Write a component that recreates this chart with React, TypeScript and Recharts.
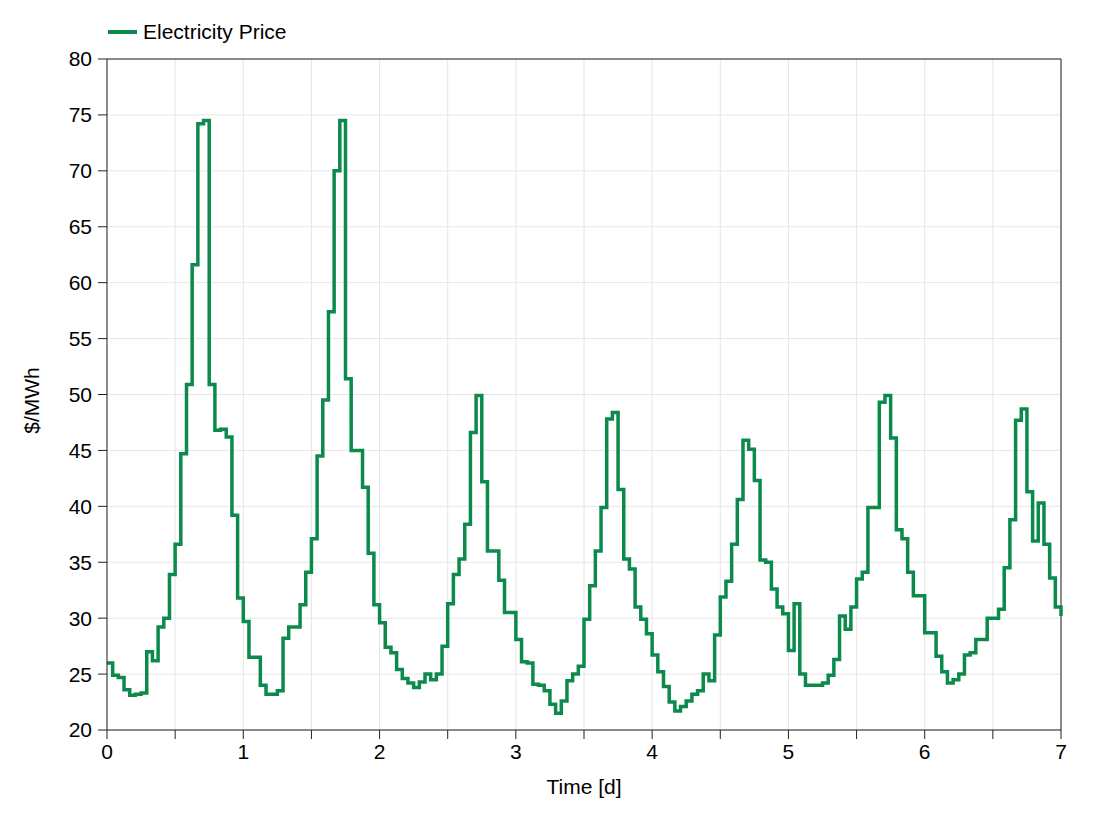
import { CartesianGrid, Label, Line, LineChart, ReferenceLine, XAxis, YAxis } from "recharts";

// hourly electricity price, $/MWh, one array per day
const day1 = [26.0, 24.9, 24.7, 23.6, 23.1, 23.2, 23.3, 27.0, 26.2, 29.2, 30.0, 33.9, 36.6, 44.7, 50.9, 61.6, 74.2, 74.5, 50.9, 46.8, 46.9, 46.2, 39.2, 31.8];
const day2 = [29.7, 26.5, 26.5, 24.0, 23.2, 23.2, 23.5, 28.2, 29.2, 29.2, 31.2, 34.1, 37.1, 44.5, 49.5, 57.4, 70.0, 74.5, 51.4, 45.0, 45.0, 41.7, 35.8, 31.2];
const day3 = [29.6, 27.4, 26.9, 25.4, 24.6, 24.2, 23.8, 24.3, 25.0, 24.5, 25.0, 27.5, 31.3, 33.9, 35.3, 38.4, 46.6, 49.9, 42.2, 36.0, 36.0, 33.4, 30.5, 30.5];
const day4 = [28.1, 26.1, 26.0, 24.1, 24.0, 23.5, 22.3, 21.5, 22.6, 24.4, 25.0, 25.7, 29.9, 32.9, 36.0, 39.9, 47.8, 48.4, 41.5, 35.3, 34.4, 31.0, 29.9, 28.6];
const day5 = [26.7, 25.2, 23.9, 22.5, 21.7, 22.1, 22.6, 23.2, 23.5, 25.0, 24.4, 28.5, 31.9, 33.3, 36.6, 40.6, 45.9, 45.1, 42.3, 35.2, 35.0, 32.6, 31.0, 30.4];
const day6 = [27.1, 31.3, 25.0, 24.0, 24.0, 24.0, 24.2, 24.9, 26.3, 30.2, 29.0, 31.0, 33.5, 34.1, 39.9, 39.9, 49.3, 49.9, 46.1, 37.9, 37.1, 34.1, 32.0, 32.0];
const day7 = [28.7, 28.7, 26.6, 25.2, 24.2, 24.5, 25.0, 26.7, 26.9, 28.1, 28.1, 30.0, 30.0, 30.8, 34.5, 38.8, 47.7, 48.7, 41.3, 36.9, 40.3, 36.6, 33.6, 31.0];
const lastValue = [30.2];

const xTicks = [0, 0.5, 1, 1.5, 2, 2.5, 3, 3.5, 4, 4.5, 5, 5.5, 6, 6.5, 7];
const yTicks = [20, 25, 30, 35, 40, 45, 50, 55, 60, 65, 70, 75, 80];

const prices = [...day1, ...day2, ...day3, ...day4, ...day5, ...day6, ...day7, ...lastValue];
const data = prices.map((price, i) => ({ t: i / 24, price }));

const GREEN = "#0b8a4c";
const AXIS = "#222";
const FONT = "'Liberation Sans', Arial, sans-serif";
const FS = 21;

export default function App() {
  return (
    <div style={{ position: "absolute", left: 0, top: 0, width: 1103, height: 814, background: "#fff", fontFamily: FONT }}>
      <div style={{ position: "absolute", left: 108, top: 20, display: "flex", alignItems: "center", fontSize: FS, color: "#000" }}>
        <svg width={29} height={6}>
          <line x1={0} x2={29} y1={3} y2={3} stroke={GREEN} strokeWidth={4} />
        </svg>
        <span style={{ marginLeft: 6 }}>Electricity Price</span>
      </div>
      <LineChart width={1103} height={814} data={data} margin={{ top: 59, right: 42, bottom: 0, left: 0 }}>
        <CartesianGrid stroke="#e6e6e6" strokeWidth={1} />
        <XAxis
          dataKey="t"
          type="number"
          domain={[0, 7]}
          ticks={xTicks}
          interval={0}
          height={84}
          tickFormatter={(v: number) => (Number.isInteger(v) ? String(v) : "")}
          tick={{ fill: "#000", fontSize: FS }}
          tickSize={9}
          tickMargin={5}
          axisLine={{ stroke: AXIS }}
          tickLine={{ stroke: AXIS }}
        >
          <Label
            content={(props: any) => {
              const vb = props.viewBox;
              return (
                <text x={vb.x + vb.width / 2} y={vb.y + 64} textAnchor="middle" fontSize={FS} fill="#000">
                  Time [d]
                </text>
              );
            }}
          />
        </XAxis>
        <YAxis
          type="number"
          domain={[20, 80]}
          ticks={yTicks}
          interval={0}
          width={107}
          tick={{ fill: "#000", fontSize: FS }}
          tickSize={9}
          tickMargin={6}
          axisLine={{ stroke: AXIS }}
          tickLine={{ stroke: AXIS }}
        >
          <Label
            content={(props: any) => {
              const vb = props.viewBox;
              const cx = vb.x + 31;
              const cy = vb.y + vb.height / 2 + 6;
              return (
                <text x={cx} y={cy} transform={`rotate(-90 ${cx} ${cy})`} textAnchor="middle" dominantBaseline="central" fontSize={FS} fill="#000">
                  $/MWh
                </text>
              );
            }}
          />
        </YAxis>
        <ReferenceLine y={80} stroke={AXIS} />
        <ReferenceLine x={7} stroke={AXIS} />
        <Line type="stepAfter" dataKey="price" stroke={GREEN} strokeWidth={3.5} dot={false} isAnimationActive={false} />
      </LineChart>
    </div>
  );
}
